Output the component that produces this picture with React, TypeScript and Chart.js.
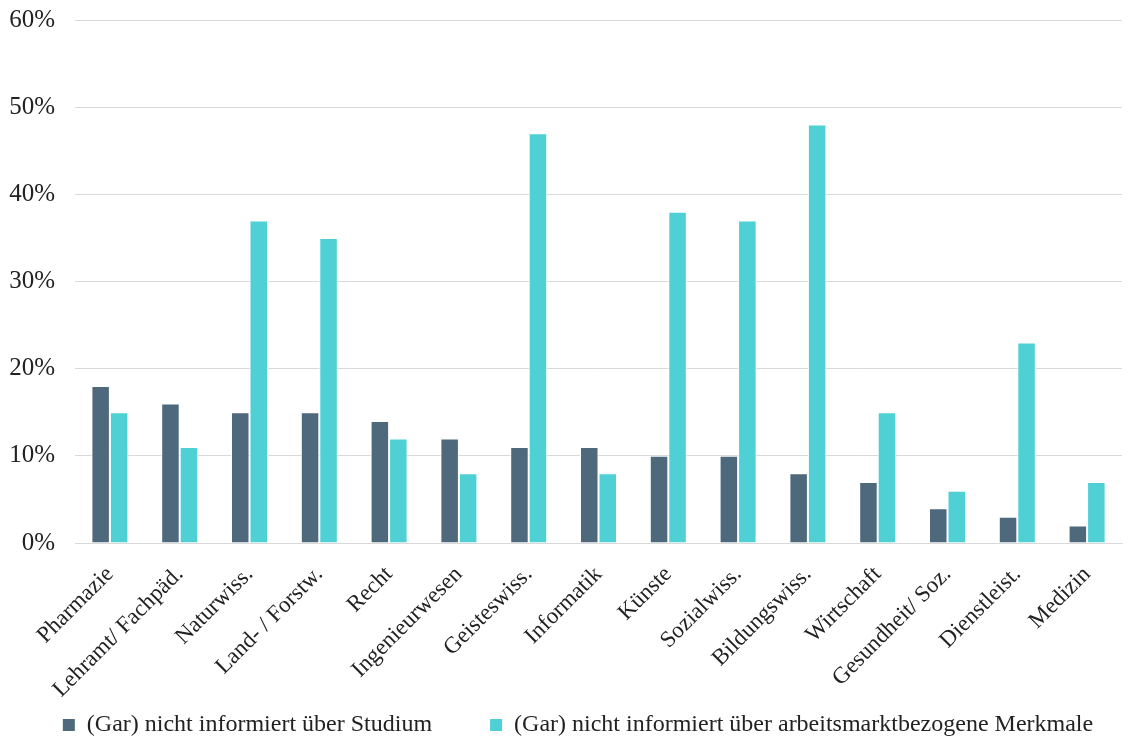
import React, { useEffect, useRef } from "react";
import { Chart, registerables } from "chart.js";

Chart.register(...registerables);

const categories = [
  "Pharmazie",
  "Lehramt/ Fachpäd.",
  "Naturwiss.",
  "Land- / Forstw.",
  "Recht",
  "Ingenieurwesen",
  "Geisteswiss.",
  "Informatik",
  "Künste",
  "Sozialwiss.",
  "Bildungswiss.",
  "Wirtschaft",
  "Gesundheit/ Soz.",
  "Dienstleist.",
  "Medizin",
];

const studium = [18, 16, 15, 15, 14, 12, 11, 11, 10, 10, 8, 7, 4, 3, 2];
const arbeitsmarkt = [15, 11, 37, 35, 12, 8, 47, 8, 38, 37, 48, 15, 6, 23, 7];

const seriesNames = [
  "(Gar) nicht informiert über Studium",
  "(Gar) nicht informiert über arbeitsmarktbezogene Merkmale",
];

const yTicks = [0, 10, 20, 30, 40, 50, 60];

const FONT = "'Liberation Serif', 'Times New Roman', serif";

const legendShift = {
  id: "legendShift",
  afterLayout(chart: any) {
    const l = chart.legend;
    if (l) {
      l.left += 13;
      l.right += 13;
    }
  },
};

export default function App() {
  const ref = useRef<HTMLCanvasElement | null>(null);

  useEffect(() => {
    if (!ref.current) return;
    const chart = new Chart(ref.current, {
      type: "bar",
      data: {
        labels: categories,
        datasets: [
          {
            label: seriesNames[0],
            data: studium,
            backgroundColor: "#4d697b",
            borderColor: "#ffffff",
            borderWidth: 1,
            categoryPercentage: 0.53,
            barPercentage: 1,
          },
          {
            label: seriesNames[1],
            data: arbeitsmarkt,
            backgroundColor: "#4ed0d4",
            borderColor: "#ffffff",
            borderWidth: 1,
            categoryPercentage: 0.53,
            barPercentage: 1,
          },
        ],
      },
      plugins: [legendShift],
      options: {
        responsive: false,
        animation: false,
        layout: { padding: { top: 0, right: 12, left: 8, bottom: -7 } },
        plugins: {
          legend: {
            position: "bottom",
            labels: {
              boxWidth: 12,
              boxHeight: 12,
              padding: 4,
              color: "#222",
              font: { family: FONT, size: 24 },
              generateLabels: (c: any) => {
                const items = Chart.defaults.plugins.legend.labels.generateLabels(c);
                items.forEach((it: any, i: number) => {
                  it.lineWidth = 0;
                  if (i === 0) it.text = it.text + "         ";
                });
                return items;
              },
            },
          },
          tooltip: { enabled: false },
        },
        scales: {
          x: {
            grid: { display: false, drawTicks: false },
            border: { color: "#d9d9d9", width: 1 },
            afterFit: (axis: any) => {
              axis.height = 166;
            },
            ticks: {
              maxRotation: 45,
              minRotation: 45,
              autoSkip: false,
              padding: 18,
              color: "#222",
              font: { family: FONT, size: 23 },
            },
          },
          y: {
            min: 0,
            max: 60,
            afterBuildTicks: (axis: any) => {
              axis.ticks = yTicks.map((v) => ({ value: v }));
            },
            afterFit: (axis: any) => {
              axis.width = 67;
              axis.paddingTop = 20;
              axis.paddingBottom = 10;
            },
            grid: { color: "#d9d9d9", drawTicks: false, lineWidth: 1 },
            border: { display: false },
            ticks: {
              padding: 20,
              color: "#222",
              font: { family: FONT, size: 25 },
              callback: (v: any) => v + "%",
            },
          },
        },
      },
    });
    return () => chart.destroy();
  }, []);

  return (
    <div style={{ position: "absolute", left: 0, top: 0, width: 1134, height: 740, background: "#fff" }}>
      <canvas ref={ref} width={1134} height={740} />
    </div>
  );
}
